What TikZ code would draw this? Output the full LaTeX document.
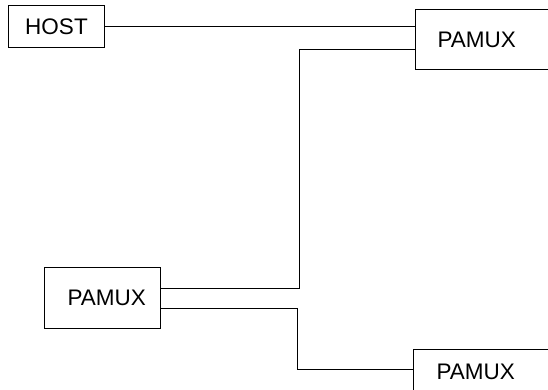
\documentclass[tikz,border=0pt]{standalone}
\usepackage{fontspec}
\setmainfont{Liberation Sans}
\begin{document}
\begin{tikzpicture}[x=1pt,y=-1pt,
  box/.style={draw, line width=1pt, font=\fontsize{22.5}{26}\selectfont},
  wire/.style={line width=1pt}]
\useasboundingbox (0,0) rectangle (548,389);
\clip (0,0) rectangle (548,389);
\node[box, anchor=north west, minimum width=96pt, minimum height=42pt, inner sep=0pt] (host) at (8,5) {HOST};
\node[box, anchor=north west, minimum width=160pt, minimum height=60pt, inner xsep=22pt, inner ysep=0pt, text width=116pt, align=left] (p1) at (415,9) {PAMUX};
\node[box, anchor=north west, minimum width=116pt, minimum height=61pt, inner xsep=23pt, inner ysep=0pt, text width=70pt, align=left] (p2) at (44,267) {PAMUX};
\node[box, anchor=north west, minimum width=160pt, minimum height=44pt, inner xsep=23pt, inner ysep=0pt, text width=114pt, align=left] (p3) at (413,349) {PAMUX};
\draw[wire] (host.east) -- (host.east -| p1.west);
\draw[wire] ([yshift=-40pt]p1.north west) -| ([xshift=138pt,yshift=9.5pt]p2.east) -- ([yshift=9.5pt]p2.east);
\draw[wire] ([yshift=-10.5pt]p2.east) -| ([xshift=-116pt,yshift=2pt]p3.west) -- ([yshift=2pt]p3.west);
\end{tikzpicture}
\end{document}
